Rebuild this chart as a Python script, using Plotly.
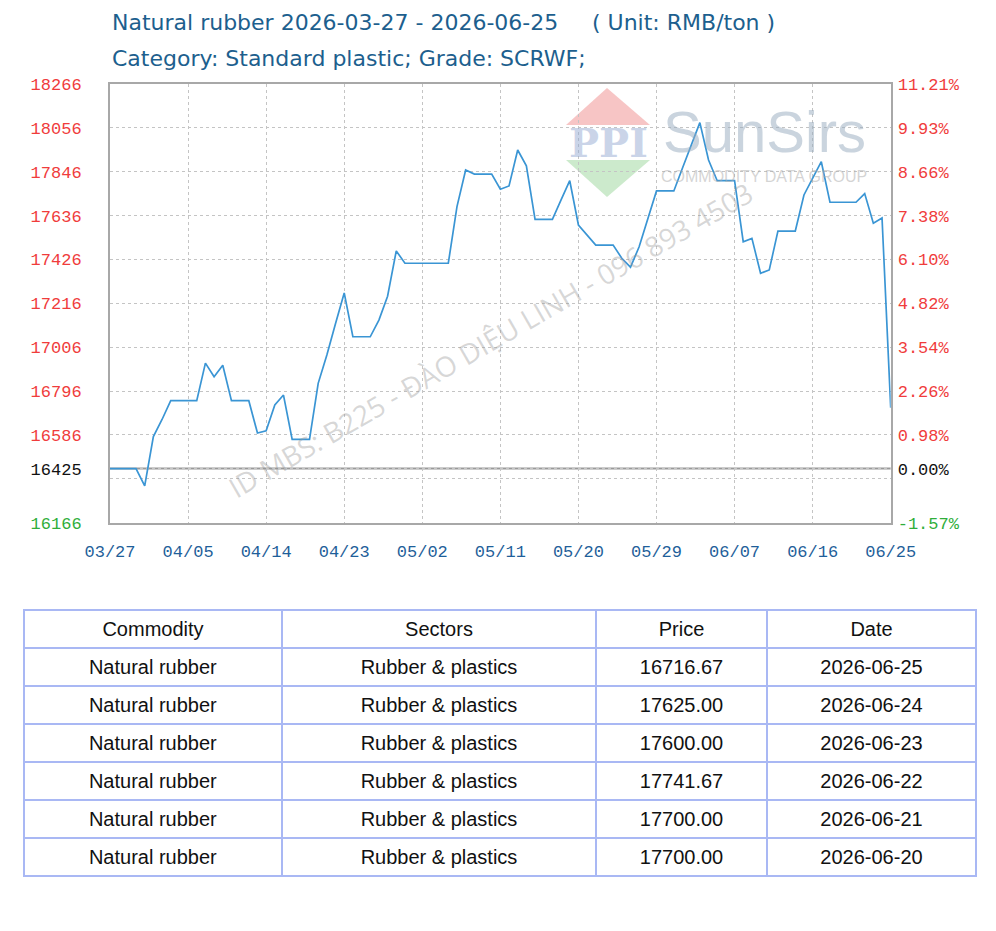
import pandas as pd
import plotly.graph_objects as go

# ---------------- data ----------------
start_date = "2026-03-27"
end_date = "2026-06-25"
prices = [
    16425, 16425, 16425, 16425, 16342, 16578, 16660, 16750, 16750, 16750,
    16750, 16930, 16865, 16920, 16750, 16750, 16750, 16595, 16606, 16730,
    16777, 16565, 16565, 16565, 16833, 16969, 17120, 17266, 17056, 17056,
    17056, 17136, 17250, 17467, 17408, 17408, 17408, 17408, 17408, 17408,
    17679, 17854, 17835, 17835, 17835, 17762, 17778, 17950, 17874, 17618,
    17618, 17618, 17711, 17803, 17591, 17542, 17495, 17495, 17495, 17432,
    17389, 17487, 17616, 17754, 17754, 17754, 17864, 17975, 18081, 17902,
    17803, 17803, 17803, 17511, 17527, 17360, 17376, 17562, 17562, 17562,
    17735, 17813, 17894, 17700, 17700, 17700, 17700, 17741.67, 17600, 17625,
    16716.67,
]
base_price = 16425
price_ticks = [16166, 16425, 16586, 16796, 17006, 17216, 17426, 17636, 17846, 18056, 18266]
grid_only_ticks = [16376]
pct_labels = ["-1.57%", "0.00%", "0.98%", "2.26%", "3.54%", "4.82%", "6.10%",
              "7.38%", "8.66%", "9.93%", "11.21%"]
x_ticks = ["2026-03-27", "2026-04-05", "2026-04-14", "2026-04-23", "2026-05-02",
           "2026-05-11", "2026-05-20", "2026-05-29", "2026-06-07", "2026-06-16",
           "2026-06-25"]

tbl_header = ["Commodity", "Sectors", "Price", "Date"]
tbl_commodity = ["Natural rubber"] * 6
tbl_sector = ["Rubber &amp; plastics"] * 6
tbl_price = ["16716.67", "17625.00", "17600.00", "17741.67", "17700.00", "17700.00"]
tbl_date = ["2026-06-25", "2026-06-24", "2026-06-23", "2026-06-22", "2026-06-21", "2026-06-20"]

dates = pd.date_range(start_date, end_date, freq="D")

# ---------------- geometry ----------------
W, H = 996, 931
PL, PR, PT, PB = 110, 890.7, 84, 522.7


def px(x):
    return x / W


def py(y):
    return 1 - y / H


RED, BLACK, GREEN = "#f03c3c", "#111111", "#2fae3a"


def col_for(i):
    if i == 0:
        return GREEN
    if i == 1:
        return BLACK
    return RED


tick_vals = []
left_text = []
right_text = []
for i, v in enumerate(price_ticks):
    tick_vals.append(v)
    left_text.append(f'<span style="color:{col_for(i)}">{v}</span>')
    right_text.append(f'<span style="color:{col_for(i)}">{pct_labels[i]}</span>')
for v in grid_only_ticks:
    tick_vals.append(v)
    left_text.append("")
    right_text.append("")

fig = go.Figure()
fig.add_trace(go.Scatter(x=dates, y=prices, mode="lines",
                         line=dict(color="#3a95d4", width=1.7),
                         hoverinfo="x+y", showlegend=False))
fig.add_trace(go.Scatter(x=dates, y=prices, mode="lines", yaxis="y2",
                         line=dict(color="rgba(0,0,0,0)", width=0),
                         hoverinfo="skip", showlegend=False))

tickfont = dict(family="Liberation Mono", size=17)
grid = dict(showgrid=True, gridcolor="#c4c4c4", gridwidth=1, griddash="3px,3px")

fig.update_layout(
    width=W, height=H,
    margin=dict(l=0, r=0, t=0, b=0, autoexpand=False),
    paper_bgcolor="white", plot_bgcolor="white",
    showlegend=False,
    xaxis=dict(domain=[px(PL), px(PR)], type="date", automargin=False,
               range=[start_date, end_date], tickvals=x_ticks, tickformat="%m/%d",
               tickfont=dict(family="Liberation Mono", size=17, color="#1f5f9a"),
               showline=True, linecolor="#a8a8a8", linewidth=2, mirror=True,
               ticks="", ticklabelstandoff=12, zeroline=False, **grid),
    yaxis=dict(domain=[py(PB), py(PT)], range=[16166, 18266], automargin=False,
               tickvals=tick_vals, ticktext=left_text, tickfont=tickfont,
               showline=True, linecolor="#a8a8a8", linewidth=2, mirror=True,
               ticks="", ticklabelstandoff=23, zeroline=False, **grid),
    yaxis2=dict(overlaying="y", side="right", anchor="x", range=[16166, 18266],
                automargin=False,
                tickvals=tick_vals, ticktext=right_text, tickfont=tickfont,
                showgrid=False, showline=False, ticks="", ticklabelstandoff=6,
                zeroline=False),
)

# base price line
fig.add_shape(type="line", xref="x domain", x0=0, x1=1, yref="y",
              y0=base_price, y1=base_price, line=dict(color="#9a9a9a", width=2),
              layer="below")

# watermark logo (PPI / SunSirs)
fig.add_shape(type="path", xref="paper", yref="paper",
              path=f"M {px(607)} {py(88)} L {px(650)} {py(125)} L {px(566)} {py(125)} Z",
              fillcolor="rgba(240,150,150,0.55)", line=dict(width=0), layer="below")
fig.add_shape(type="path", xref="paper", yref="paper",
              path=f"M {px(566)} {py(160)} L {px(650)} {py(160)} L {px(607)} {py(197)} Z",
              fillcolor="rgba(170,220,170,0.6)", line=dict(width=0), layer="below")


def ann(x, y, text, font, xanchor="center", angle=0):
    fig.add_annotation(xref="paper", yref="paper", x=px(x), y=py(y), text=text,
                       showarrow=False, xanchor=xanchor, yanchor="middle",
                       textangle=angle, font=font)


ann(608, 142, "<b>PPI</b>",
    dict(family="DejaVu Serif", size=40, color="rgba(150,170,210,0.5)"))
ann(764, 132, "SunSirs",
    dict(family="Liberation Sans", size=58, color="rgba(150,170,190,0.5)"))
ann(764, 177, "COMMODITY DATA GROUP",
    dict(family="Liberation Sans", size=16, color="rgba(170,170,170,0.5)"))
ann(490, 340, "ID MBS: B225 - ĐÀO DIỆU LINH - 096 893 4503",
    dict(family="Open Sans", size=28, color="rgba(150,150,150,0.38)"), angle=-30)

# titles
title_font = dict(family="DejaVu Sans", size=22, color="#1d5f8e")
ann(110, 22, "Natural rubber 2026-03-27 - 2026-06-25", title_font, xanchor="left")
ann(590, 22, "( Unit: RMB/ton )", title_font, xanchor="left")
ann(110, 58, "Category: Standard plastic; Grade: SCRWF;", title_font, xanchor="left")


def wrap(lst):
    return [f"<span>{t}</span>" for t in lst]


# table
fig.add_trace(go.Table(
    domain=dict(x=[px(24), px(976)], y=[py(882), py(610)]),
    columnwidth=[258, 314, 171, 209],
    header=dict(values=wrap(tbl_header), height=38, align="center",
                fill_color="white", line=dict(color="#a9b8f4", width=2.5),
                font=dict(family="Liberation Sans", size=20, color="#111")),
    cells=dict(values=[wrap(tbl_commodity), tbl_sector, wrap(tbl_price), wrap(tbl_date)],
               height=38, align="center", fill_color="white",
               line=dict(color="#a9b8f4", width=2.5),
               font=dict(family="Liberation Sans", size=20, color="#111")),
))

fig.write_html("out.html")
